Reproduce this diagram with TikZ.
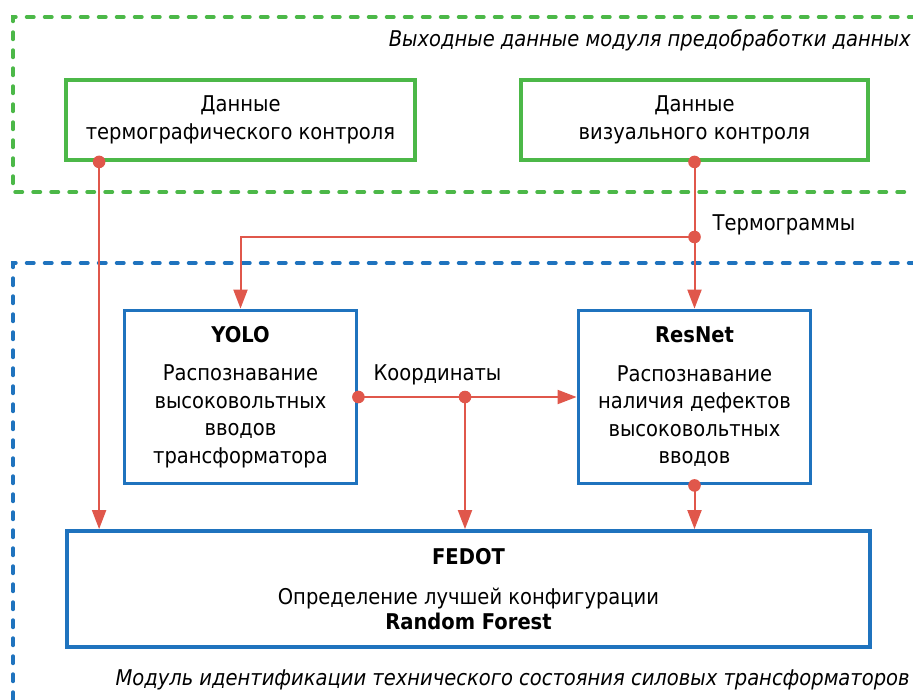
\documentclass[tikz,border=0pt]{standalone}
\usepackage{fontspec}
\setmainfont{DejaVu Sans Condensed}
\usetikzlibrary{arrows.meta,calc}
\definecolor{framegreen}{HTML}{4CB848}
\definecolor{frameblue}{HTML}{1F73BE}
\definecolor{flowred}{HTML}{E0574B}
\begin{document}
\begin{tikzpicture}[x=1pt,y=-1pt,
  every node/.style={font=\fontsize{21.7}{27.5}\selectfont, text=black},
  databox/.style={draw=framegreen, line width=3.8pt, minimum width=349pt,
    minimum height=80pt, align=center, inner sep=0pt},
  modelbox/.style={draw=frameblue, line width=3.8pt, minimum width=232pt,
    minimum height=173pt, align=center, inner sep=0pt},
  groupframe/.style={line width=3.4pt, line cap=round, dash pattern=on 7.5pt off 10.5pt},
  flow/.style={draw=flowred, line width=2pt},
  flowarrow/.style={flow, -{Triangle[length=19pt,width=14pt]}},
  flowdot/.style={fill=flowred},
  caption/.style={font=\fontsize{21.7}{27.5}\selectfont\itshape},
  flowlabel/.style={anchor=west, inner sep=0pt}
]
\useasboundingbox (0,0) rectangle (913,699);

% group frames (open on the right / bottom)
\draw[groupframe, framegreen] (916,17) -- (13,17) -- (13,192) -- (916,192);
\draw[groupframe, frameblue] (916,263) -- (13,263) -- (13,703);

\node[caption, anchor=east, inner sep=0pt] (incap) at (911,40)
  {Выходные данные модуля предобработки данных};
\node[caption, anchor=east, inner sep=0pt] (modcap) at (910,680)
  {Модуль идентификации технического состояния силовых трансформаторов};

% input data
\node[databox] (thermo) at (240.5,120) {Данные\\термографического контроля};
\node[databox, minimum width=347pt] (visual) at (694.5,120) {Данные\\визуального контроля};

% models
\node[modelbox] (yolo) at (240.5,397)
  {\textbf{YOLO}\\[11pt]Распознавание\\высоковольтных\\вводов\\трансформатора};
\node[modelbox] (resnet) at (694.5,397)
  {\textbf{ResNet}\\[11pt]Распознавание\\наличия дефектов\\высоковольтных\\вводов};
\node[modelbox, minimum width=803pt, minimum height=116pt] (fedot) at (468.5,589)
  {\textbf{FEDOT}\\[12.5pt]Определение лучшей конфигурации\\[-3pt]\textbf{Random Forest}};

% junction points
\path (thermo.south west) ++(35,0) coordinate (tout);
\coordinate (tgram) at (visual.south |- 0,237);
\coordinate (coord) at (465,0 |- yolo.east);

% connectors
\draw[flowarrow] (tout) -- (tout |- fedot.north);
\draw[flowarrow] (visual.south) -- (resnet.north);
\draw[flowarrow] (tgram) -| (yolo.north);
\draw[flowarrow] (yolo.east) -- (resnet.west);
\draw[flowarrow] (coord) -- (coord |- fedot.north);
\draw[flowarrow] (resnet.south) -- (resnet.south |- fedot.north);

\fill[flowdot] (tout) circle (6.3);
\fill[flowdot] (visual.south) circle (6.3);
\fill[flowdot] (tgram) circle (6.3);
\fill[flowdot] (yolo.east) circle (6.3);
\fill[flowdot] (coord) circle (6.3);
\fill[flowdot] (resnet.south) circle (6.3);

\node[flowlabel] (tglabel) at ($(tgram)+(18,-12.5)$) {Термограммы};
\node[flowlabel] (colabel) at ($(yolo.east)+(15,-22)$) {Координаты};
\end{tikzpicture}
\end{document}
